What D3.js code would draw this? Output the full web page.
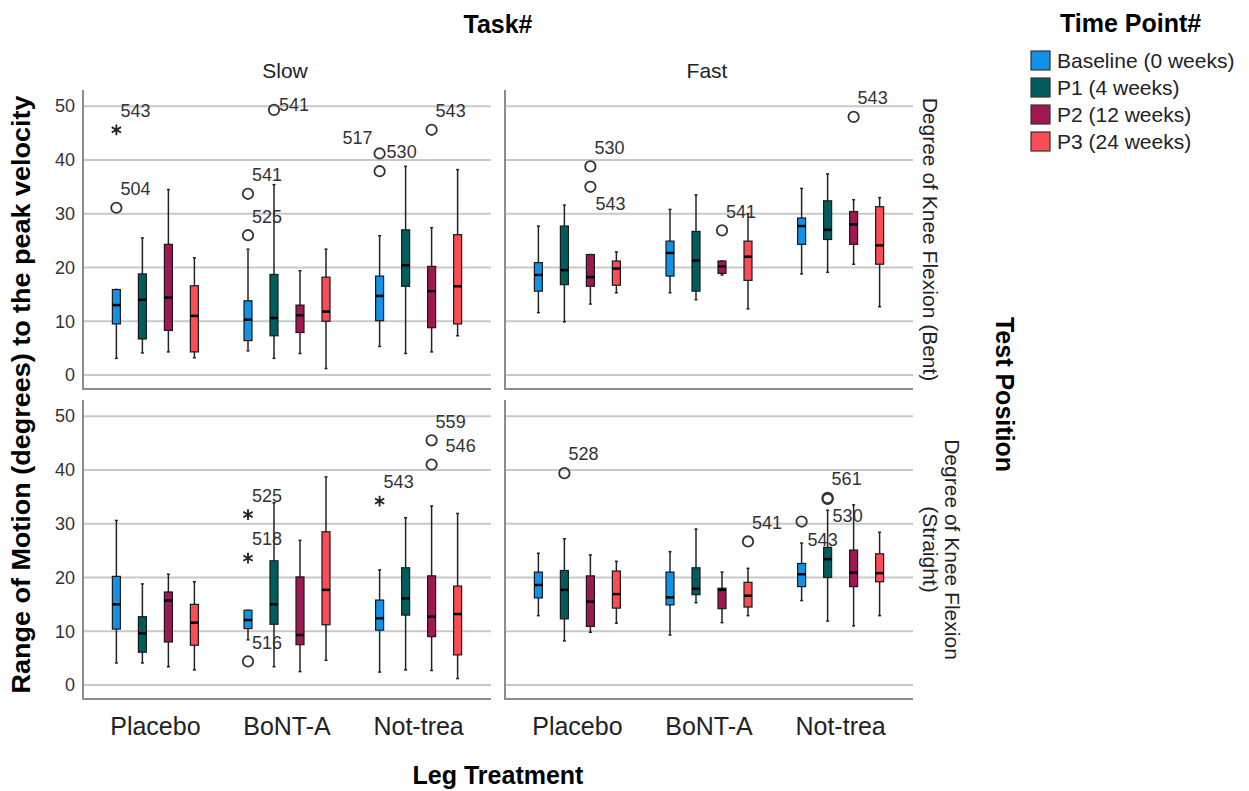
<!DOCTYPE html>
<html>
<head>
<meta charset="utf-8">
<script src="https://cdn.jsdelivr.net/npm/d3@7"></script>
<style>
  body { margin: 0; background: #fff; }
  svg text { font-family: "Liberation Sans", Arial, sans-serif; fill: #222; }
  .title { font-weight: bold; font-size: 25px; fill: #000; }
  .strip { font-size: 21px; fill: #222; }
  .tick-y text { font-size: 18px; fill: #333; }
  .tick-x text { font-size: 25px; fill: #222; }
  .legend text { font-size: 21px; fill: #222; }
  .out-label { font-size: 18px; fill: #333; }
</style>
</head>
<body>
<svg id="chart" width="1249" height="791"></svg>
<script>
const TASKS = ["Slow", "Fast"];
const POSITIONS = [["Degree of Knee Flexion (Bent)"], ["Degree of Knee Flexion", "(Straight)"]];
const TREATMENTS = ["Placebo", "BoNT-A", "Not-trea"];
const TIME_POINTS = ["Baseline (0 weeks)", "P1 (4 weeks)", "P2 (12 weeks)", "P3 (24 weeks)"];
const COLORS = ["#1192e8", "#005d5d", "#9f1853", "#fa4d56"];
const Y_TICKS = [0, 10, 20, 30, 40, 50];

// [low whisker, q1, median, q3, high whisker]; Placebo x4, BoNT-A x4, Not-trea x4
const SLOW_BENT = [
  [3.1, 9.5, 13.0, 15.9, 15.9], [4.1, 6.7, 14.0, 18.8, 25.5], [4.3, 8.3, 14.4, 24.3, 34.5], [3.2, 4.3, 11.0, 16.6, 21.8],
  [4.5, 6.4, 10.3, 13.8, 23.4], [3.1, 7.3, 10.6, 18.7, 35.4], [4.0, 7.9, 11.1, 13.0, 19.4], [1.2, 10.0, 11.8, 18.2, 23.4],
  [5.3, 10.1, 14.7, 18.4, 25.9], [4.0, 16.5, 20.4, 27.0, 38.8], [4.3, 8.8, 15.6, 20.2, 27.4], [7.3, 9.5, 16.5, 26.1, 38.2]
];
const FAST_BENT = [
  [11.6, 15.6, 18.6, 20.9, 27.7], [9.9, 16.8, 19.5, 27.7, 31.6], [13.2, 16.5, 18.2, 22.4, 22.4], [15.3, 16.7, 19.8, 21.2, 22.9],
  [15.3, 18.4, 22.7, 24.9, 30.8], [14.0, 15.6, 21.3, 26.7, 33.5], [18.6, 18.9, 20.2, 21.2, 21.2], [12.3, 17.6, 22.0, 24.9, 30.0],
  [18.8, 24.3, 27.7, 29.2, 34.7], [19.1, 25.2, 27.0, 32.4, 37.4], [20.6, 24.3, 28.0, 30.4, 32.6], [12.7, 20.6, 24.1, 31.3, 33.0]
];
const SLOW_STRAIGHT = [
  [4.1, 10.4, 15.0, 20.2, 30.6], [4.1, 6.1, 9.6, 12.7, 18.8], [3.4, 8.0, 15.7, 17.3, 20.6], [2.8, 7.4, 11.6, 15.0, 19.2],
  [8.4, 10.5, 12.1, 13.9, 13.9], [3.4, 11.3, 15.0, 23.1, 33.9], [2.5, 7.5, 9.3, 20.1, 26.9], [4.6, 11.2, 17.7, 28.5, 38.7],
  [2.4, 10.2, 12.4, 15.8, 21.4], [2.8, 13.0, 16.1, 21.8, 31.1], [2.7, 9.0, 12.7, 20.3, 33.3], [1.2, 5.6, 13.2, 18.4, 31.9]
];
const FAST_STRAIGHT = [
  [12.9, 16.2, 18.6, 21.0, 24.5], [8.2, 12.3, 17.7, 21.3, 27.2], [9.8, 10.9, 15.5, 20.3, 24.2], [11.5, 14.3, 16.9, 21.2, 23.0],
  [9.3, 14.9, 16.3, 21.0, 24.8], [15.3, 16.8, 17.9, 21.8, 29.0], [11.6, 14.2, 17.7, 18.0, 21.0], [12.9, 14.5, 16.6, 19.1, 21.7],
  [15.7, 18.3, 20.6, 22.6, 26.4], [11.9, 20.0, 23.4, 25.6, 32.5], [11.0, 18.3, 20.9, 25.1, 33.5], [12.9, 19.2, 20.8, 24.4, 28.4]
];

// outliers: [treatment, time point index, value, case id, extreme (star)]
const SLOW_BENT_OUT = [
  ["Placebo", 0, 31.1, "504", false], ["Placebo", 0, 45.6, "543", true],
  ["BoNT-A", 0, 33.7, "541", false], ["BoNT-A", 0, 26.0, "525", false], ["BoNT-A", 1, 49.3, "541", false],
  ["Not-trea", 0, 41.2, "530", false], ["Not-trea", 0, 37.9, "517", false], ["Not-trea", 2, 45.6, "543", false]
];
const FAST_BENT_OUT = [
  ["Placebo", 2, 38.8, "530", false], ["Placebo", 2, 35.0, "543", false],
  ["BoNT-A", 2, 26.9, "541", false], ["Not-trea", 2, 48.0, "543", false]
];
const SLOW_STRAIGHT_OUT = [
  ["BoNT-A", 0, 31.7, "525", true], ["BoNT-A", 0, 23.6, "518", true], ["BoNT-A", 0, 4.4, "516", false],
  ["Not-trea", 0, 34.2, "543", true], ["Not-trea", 2, 45.5, "559", false], ["Not-trea", 2, 41.0, "546", false]
];
const FAST_STRAIGHT_OUT = [
  ["Placebo", 1, 39.4, "528", false], ["BoNT-A", 3, 26.7, "541", false],
  ["Not-trea", 0, 30.4, "543", false], ["Not-trea", 1, 34.8, "561", false], ["Not-trea", 1, 34.6, "530", false]
];

// where a case label does not sit at the usual upper right spot
const LABEL_NUDGE = {
  "0-BoNT-A-1-541": {dx: 5, dy: -5},
  "0-Not-trea-0-530": {dx: 7, dy: -2},
  "0-Not-trea-0-517": {dx: -7, dy: -34, anchor: "end"},
  "1-Placebo-2-543": {dx: 5, dy: 17},
  "2-Not-trea-2-546": {dx: 14, dy: -19},
  "3-Not-trea-0-543": {dx: 6, dy: 18},
  "3-Not-trea-1-530": {dx: 5, dy: 17}
};

(() => {
  var svg = d3.select("svg#chart"),
      colX = [83, 505],
      rowY = [90, 400],
      panelW = 408,
      panelH = 299,
      boxW = 8;

  var panels = [
    {col: 0, row: 0, boxes: SLOW_BENT, out: SLOW_BENT_OUT},
    {col: 1, row: 0, boxes: FAST_BENT, out: FAST_BENT_OUT},
    {col: 0, row: 1, boxes: SLOW_STRAIGHT, out: SLOW_STRAIGHT_OUT},
    {col: 1, row: 1, boxes: FAST_STRAIGHT, out: FAST_STRAIGHT_OUT}
  ];

  // SCALES
  var y = d3.scaleLinear().domain([-2.6, 53]).range([panelH, 0]);
  var x = d3.scaleBand().domain(TREATMENTS).range([0, panelW]).paddingOuter(0.05).paddingInner(0);
  var sub = d3.scaleBand().domain(d3.range(TIME_POINTS.length)).range([-52, 52]);
  var subX = (tp) => sub(tp) + sub.bandwidth() / 2;

  panels.forEach((p, pi) => {
    var g = svg.append("g")
      .attr("transform", `translate(${colX[p.col]}, ${rowY[p.row]})`);

    // grid
    g.append("g").selectAll("line")
      .data(Y_TICKS)
      .enter().append("line")
        .attr("x1", 0).attr("x2", panelW)
        .attr("y1", (d) => y(d)).attr("y2", (d) => y(d))
        .attr("stroke", "#c9c9c9")
        .attr("stroke-width", 2);

    // axis frame (left + bottom)
    g.append("path")
      .attr("d", `M0,0V${panelH}H${panelW}`)
      .attr("fill", "none")
      .attr("stroke", "#8c8c8c")
      .attr("stroke-width", 2);

    if (p.col === 0) {
      g.append("g")
        .attr("class", "tick-y")
        .call(d3.axisLeft(y).tickValues(Y_TICKS).tickSize(0).tickPadding(8))
        .call((a) => a.select(".domain").remove());
    }
    if (p.row === 1) {
      g.append("g")
        .attr("class", "tick-x")
        .attr("transform", `translate(0, ${panelH})`)
        .call(d3.axisBottom(x).tickSize(0).tickPadding(18))
        .call((a) => a.select(".domain").remove());
    }

    var rows = p.boxes.map((b, i) => ({
      treat: TREATMENTS[Math.floor(i / TIME_POINTS.length)],
      tp: i % TIME_POINTS.length,
      low: b[0], q1: b[1], med: b[2], q3: b[3], high: b[4]
    }));

    var box = g.append("g").selectAll(".box")
      .data(rows)
      .enter().append("g")
        .attr("class", "box")
        .attr("transform", (d) => `translate(${x(d.treat) + x.bandwidth() / 2 + subX(d.tp)}, 0)`);

    // whiskers
    box.append("line")
      .attr("y1", (d) => y(d.low)).attr("y2", (d) => y(d.high))
      .attr("stroke", "#222").attr("stroke-width", 1.5);
    box.append("line")
      .attr("x1", -1.5).attr("x2", 1.5)
      .attr("y1", (d) => y(d.low)).attr("y2", (d) => y(d.low))
      .attr("stroke", "#222").attr("stroke-width", 1.5);
    box.append("line")
      .attr("x1", -1.5).attr("x2", 1.5)
      .attr("y1", (d) => y(d.high)).attr("y2", (d) => y(d.high))
      .attr("stroke", "#222").attr("stroke-width", 1.5);

    box.append("rect")
      .attr("x", -boxW / 2)
      .attr("width", boxW)
      .attr("y", (d) => y(d.q3))
      .attr("height", (d) => Math.max(1, y(d.q1) - y(d.q3)))
      .attr("fill", (d) => COLORS[d.tp])
      .attr("stroke", "#1a1a1a")
      .attr("stroke-width", 1.2);

    box.append("line")
      .attr("x1", -boxW / 2).attr("x2", boxW / 2)
      .attr("y1", (d) => y(d.med)).attr("y2", (d) => y(d.med))
      .attr("stroke", "#000").attr("stroke-width", 2.5);

    // outliers
    var outs = p.out.map((o) => ({
      treat: o[0], tp: o[1], value: o[2], id: o[3], star: o[4],
      nudge: LABEL_NUDGE[`${pi}-${o[0]}-${o[1]}-${o[3]}`] || {dx: 4, dy: -19}
    }));

    var og = g.append("g").selectAll(".out")
      .data(outs)
      .enter().append("g")
        .attr("class", "out")
        .attr("transform", (d) => `translate(${x(d.treat) + x.bandwidth() / 2 + subX(d.tp)}, ${y(d.value)})`);

    og.filter((d) => !d.star).append("circle")
      .attr("r", 5.2)
      .attr("fill", "none")
      .attr("stroke", "#333")
      .attr("stroke-width", 1.8);

    og.filter((d) => d.star).append("path")
      .attr("d", d3.symbol(d3.symbolAsterisk, 80))
      .attr("fill", "none")
      .attr("stroke", "#222")
      .attr("stroke-width", 1.8);

    og.append("text")
      .attr("class", "out-label")
      .attr("x", (d) => d.nudge.dx)
      .attr("y", (d) => d.nudge.dy)
      .attr("dy", "0.35em")
      .attr("text-anchor", (d) => d.nudge.anchor || "start")
      .text((d) => d.id);
  });

  // column strips + titles
  svg.append("text").attr("class", "title")
    .attr("x", colX[0] + (colX[1] + panelW - colX[0]) / 2).attr("y", 33)
    .attr("text-anchor", "middle").text("Task#");

  TASKS.forEach((t, i) => {
    svg.append("text").attr("class", "strip")
      .attr("x", colX[i] + panelW / 2 - 2).attr("y", 78)
      .attr("text-anchor", "middle").text(t);
  });

  // row strips
  POSITIONS.forEach((lines, r) => {
    lines.forEach((ln, k) => {
      var cx = 930 + (lines.length - 1 - k) * 22;
      var cy = rowY[r] + panelH / 2;
      svg.append("text").attr("class", "strip")
        .attr("transform", `translate(${cx}, ${cy}) rotate(90)`)
        .attr("text-anchor", "middle")
        .attr("dy", "0.35em")
        .text(ln);
    });
  });

  svg.append("text").attr("class", "title")
    .attr("transform", `translate(1005, ${(rowY[0] + rowY[1] + panelH) / 2}) rotate(90)`)
    .attr("text-anchor", "middle").attr("dy", "0.35em")
    .text("Test Position");

  svg.append("text").attr("class", "title")
    .attr("transform", `translate(21, ${(rowY[0] + rowY[1] + panelH) / 2}) rotate(-90)`)
    .attr("text-anchor", "middle").attr("dy", "0.35em")
    .attr("textLength", 598)
    .attr("lengthAdjust", "spacingAndGlyphs")
    .text("Range of Motion (degrees) to the peak velocity");

  svg.append("text").attr("class", "title")
    .attr("x", colX[0] + (colX[1] + panelW - colX[0]) / 2).attr("y", 784)
    .attr("text-anchor", "middle").text("Leg Treatment");

  // LEGEND
  var legend = svg.append("g").attr("class", "legend").attr("transform", "translate(1031, 51)");
  svg.append("text").attr("class", "title")
    .attr("x", 1060).attr("y", 32).text("Time Point#");

  var item = legend.selectAll(".item")
    .data(TIME_POINTS)
    .enter().append("g")
      .attr("class", "item")
      .attr("transform", (d, i) => `translate(0, ${i * 27})`);
  item.append("rect")
    .attr("width", 19).attr("height", 19)
    .attr("fill", (d, i) => COLORS[i])
    .attr("stroke", "#333").attr("stroke-width", 1.2);
  item.append("text")
    .attr("x", 26).attr("y", 10).attr("dy", "0.35em")
    .text((d) => d);
})();
</script>
</body>
</html>
